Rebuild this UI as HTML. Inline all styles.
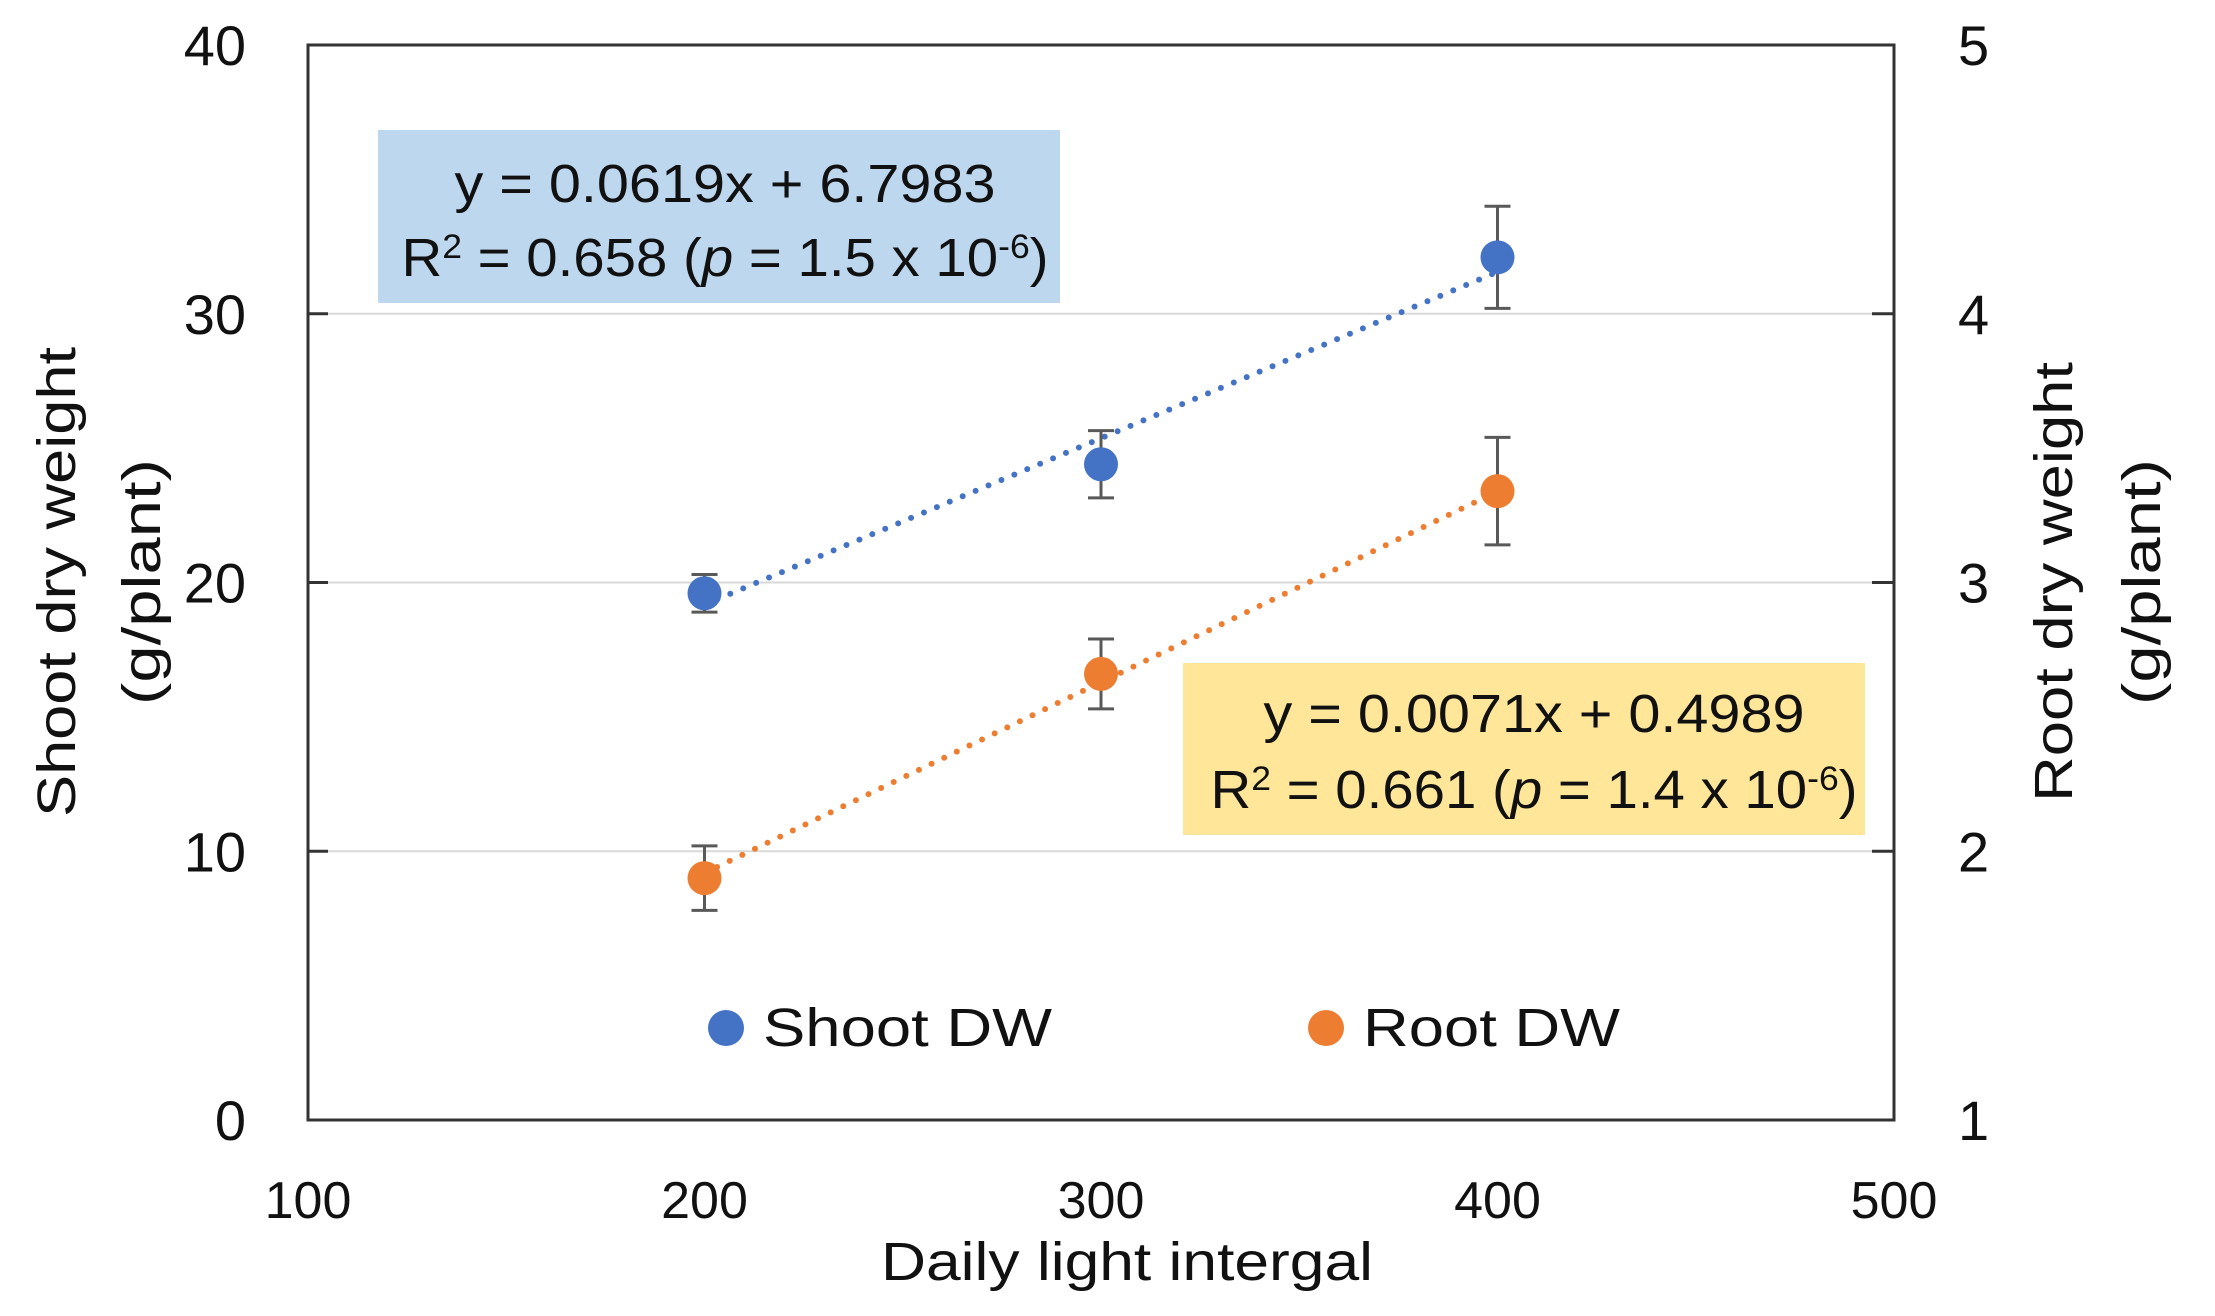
<!DOCTYPE html>
<html><head><meta charset="utf-8">
<style>
html,body{margin:0;padding:0;background:#fff;}
svg{display:block;font-family:"Liberation Sans",sans-serif;}
</style></head>
<body>
<svg id="chart" width="2215" height="1316" viewBox="0 0 2215 1316" xmlns="http://www.w3.org/2000/svg">
<rect x="0" y="0" width="2215" height="1316" fill="#fff"/>
<g id="grid"></g>
<rect x="378" y="130" width="682" height="173" fill="#bdd7ee"/>
<rect x="1183" y="663" width="682" height="172" fill="#ffe699"/>
<g id="marks"></g>
<rect x="308" y="45" width="1586" height="1075" fill="none" stroke="#333" stroke-width="3"/>
<g id="ticks"></g>
<text x="725" y="202" font-size="54" text-anchor="middle" fill="#111" textLength="541" lengthAdjust="spacingAndGlyphs">y = 0.0619x + 6.7983</text>
<text x="725" y="276" font-size="54" text-anchor="middle" fill="#111" textLength="647" lengthAdjust="spacingAndGlyphs">R<tspan font-size="34" dy="-18">2</tspan><tspan dy="18"> = 0.658 (</tspan><tspan font-style="italic">p</tspan> = 1.5 x 10<tspan font-size="34" dy="-18">-6</tspan><tspan dy="18">)</tspan></text>
<text x="1534" y="732" font-size="54" text-anchor="middle" fill="#111" textLength="541" lengthAdjust="spacingAndGlyphs">y = 0.0071x + 0.4989</text>
<text x="1534" y="808" font-size="54" text-anchor="middle" fill="#111" textLength="647" lengthAdjust="spacingAndGlyphs">R<tspan font-size="34" dy="-18">2</tspan><tspan dy="18"> = 0.661 (</tspan><tspan font-style="italic">p</tspan> = 1.4 x 10<tspan font-size="34" dy="-18">-6</tspan><tspan dy="18">)</tspan></text>
<g>
<circle cx="726" cy="1028" r="18" fill="#4472c4"/>
<text x="763" y="1046" font-size="54" fill="#111" textLength="289" lengthAdjust="spacingAndGlyphs">Shoot DW</text>
<circle cx="1326" cy="1028" r="18" fill="#ed7d31"/>
<text x="1363" y="1046" font-size="54" fill="#111" textLength="257" lengthAdjust="spacingAndGlyphs">Root DW</text>
</g>
<text x="1127" y="1280" font-size="54" text-anchor="middle" fill="#111" textLength="492" lengthAdjust="spacingAndGlyphs">Daily light intergal</text>
<text transform="translate(75,582) rotate(-90)" font-size="54" text-anchor="middle" fill="#111" textLength="470" lengthAdjust="spacingAndGlyphs">Shoot dry weight</text>
<text transform="translate(160,582) rotate(-90)" font-size="54" text-anchor="middle" fill="#111" textLength="246" lengthAdjust="spacingAndGlyphs">(g/plant)</text>
<text transform="translate(2072,582) rotate(-90)" font-size="54" text-anchor="middle" fill="#111" textLength="440" lengthAdjust="spacingAndGlyphs">Root dry weight</text>
<text transform="translate(2160,582) rotate(-90)" font-size="54" text-anchor="middle" fill="#111" textLength="246" lengthAdjust="spacingAndGlyphs">(g/plant)</text>
</svg>
<script>
const xCategories = [200, 300, 400];
const shootValues = [19.6, 24.4, 32.1];
const shootErrors = [0.7, 1.25, 1.9];
const rootValues = [1.9, 2.66, 3.34];
const rootErrors = [0.12, 0.13, 0.2];
const shootTrend = [0.0619, 6.7983];
const rootTrend = [0.0071, 0.4989];
const xTicks = [100, 200, 300, 400, 500];
const yLeftTicks = [0, 10, 20, 30, 40];
const yRightTicks = [1, 2, 3, 4, 5];

const L=308,R=1894,T=45,B=1120;
const xs=v=>L+(v-100)/400*(R-L);
const yl=v=>B-(v/40)*(B-T);
const yr=v=>B-((v-1)/4)*(B-T);
const NS='http://www.w3.org/2000/svg';
function mk(tag,attrs,parent){const e=document.createElementNS(NS,tag);for(const k in attrs)e.setAttribute(k,attrs[k]);parent.appendChild(e);return e;}
const grid=document.getElementById('grid'),marks=document.getElementById('marks'),ticks=document.getElementById('ticks');

yLeftTicks.forEach((v,i)=>{
  if(v>0&&v<40){const g=mk('line',{x1:L,x2:R,y1:yl(v),y2:yl(v),stroke:'#d9d9d9','stroke-width':2},grid);
  
  }
  const t=mk('line',{x1:L,x2:L+20,y1:yl(v),y2:yl(v),stroke:'#333','stroke-width':3},ticks);
  
  
  const lb=mk('text',{x:246,y:yl(v)+20,'font-size':56,'text-anchor':'end',fill:'#111'},ticks);lb.textContent=v;
  
  
});
yRightTicks.forEach(v=>{
  const t=mk('line',{x1:R-22,x2:R,y1:yr(v),y2:yr(v),stroke:'#333','stroke-width':3},ticks);
  
  
  const lb=mk('text',{x:1958,y:yr(v)+20,'font-size':56,fill:'#111'},ticks);lb.textContent=v;
  
  
});
xTicks.forEach(v=>{
  const lb=mk('text',{x:xs(v),y:1218,'font-size':52,'text-anchor':'middle',fill:'#111'},ticks);lb.textContent=v;
  
  
});

function series(vals,errs,trend,ys,color,name){
  const x0=xCategories[0],x1=xCategories[xCategories.length-1];
  const tl=mk('line',{x1:xs(x0),x2:xs(x1),y1:ys(trend[0]*x0+trend[1]),y2:ys(trend[0]*x1+trend[1]),stroke:color,'stroke-width':6,'stroke-dasharray':'0 14','stroke-linecap':'round'},marks);
  
  
  vals.forEach((v,i)=>{
    const x=xs(xCategories[i]),yh=ys(v+errs[i]),ylo=ys(v-errs[i]);
    const eb=mk('path',{d:`M${x},${yh}V${ylo}M${x-13},${yh}H${x+13}M${x-13},${ylo}H${x+13}`,stroke:'#595959','stroke-width':3,fill:'none'},marks);
    
    
    const c=mk('circle',{cx:x,cy:ys(v),r:17,fill:color},marks);
    
    
  });
}
series(shootValues,shootErrors,shootTrend,yl,'#4472c4','shoot');
series(rootValues,rootErrors,rootTrend,yr,'#ed7d31','root');
</script>
</body></html>
